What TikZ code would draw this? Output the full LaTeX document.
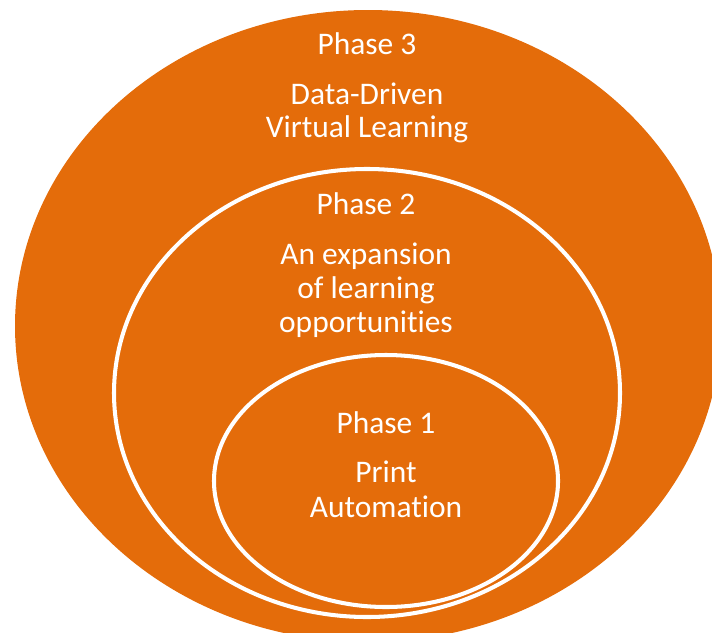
\documentclass[tikz,border=0pt]{standalone}
\usepackage{fontspec}
\setmainfont{Carlito}[Ligatures=NoCommon]
\definecolor{phaseorange}{RGB}{228,108,10}
\tikzset{
  ring/.style={draw=white, line width=2.3pt},
  phasetext/.style={text=white, anchor=base, inner sep=0pt, font=\fontsize{17.9}{20}\selectfont}
}

\begin{document}
\begin{tikzpicture}[x=0.02cm, y=-0.02cm]
           \useasboundingbox (0,0) rectangle (712,632);
           \clip (0,0) rectangle (712,632);
           \fill[phaseorange] (368,326) ellipse [x radius=353, y radius=316];
           \draw[ring] (367,393) ellipse [x radius=253, y radius=224];
           \draw[ring] (386,481) ellipse [x radius=172, y radius=126];
           \node[phasetext] (phase3) at (367,54) {Phase 3};
           \node[phasetext] (data) at (367,104) {Data-Driven};
           \node[phasetext] (virtual) at (367,137) {Virtual Learning};
           \node[phasetext] (phase2) at (366,214) {Phase 2};
           \node[phasetext] (expansion) at (366,264) {An expansion};
           \node[phasetext] (learning) at (366,298) {of learning};
           \node[phasetext] (opportunities) at (366,332) {opportunities};
           \node[phasetext] (phase1) at (386,433) {Phase 1};
           \node[phasetext] (print) at (386,482) {Print};
           \node[phasetext] (automation) at (386,517) {Automation};
      \end{tikzpicture}
\end{document}
